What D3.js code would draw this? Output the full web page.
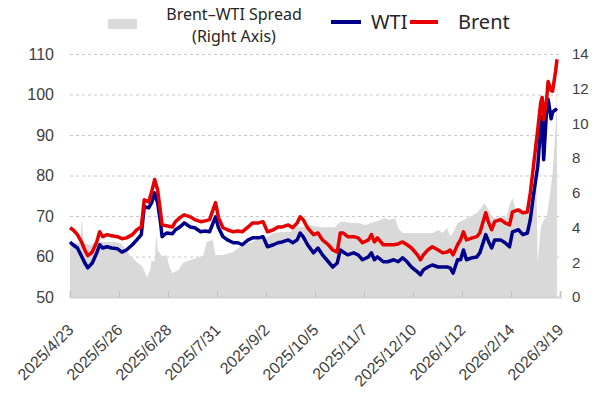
<!DOCTYPE html>
<html lang="en">
<head>
  <meta charset="UTF-8">
  <title>WTI vs Brent</title>
  <script src="https://d3js.org/d3.v7.min.js"></script>
  <style>
    body {
      margin: 0;
      background: #fff;
      font-family: 'Noto Sans', 'Open Sans', sans-serif;
    }
    .axis text { fill: #404040; }
    .grid line { stroke: #c8c8c8; stroke-dasharray: 3,3; }
  </style>
</head>
<body>
  <svg width="600" height="393"></svg>

  <script>
    // trading-day series
    const lineDates = [
      "2025-04-23","2025-04-25","2025-04-28","2025-05-01","2025-05-03","2025-05-05","2025-05-08","2025-05-11",
      "2025-05-13","2025-05-15","2025-05-18","2025-05-21","2025-05-25","2025-05-28","2025-05-31","2025-06-04",
      "2025-06-07","2025-06-10","2025-06-12","2025-06-15","2025-06-17","2025-06-19","2025-06-21","2025-06-23",
      "2025-06-24","2025-06-27","2025-07-01","2025-07-03","2025-07-06","2025-07-09","2025-07-13","2025-07-16",
      "2025-07-20","2025-07-23","2025-07-26","2025-07-30","2025-08-01","2025-08-04","2025-08-07","2025-08-11",
      "2025-08-14","2025-08-17","2025-08-21","2025-08-24","2025-08-28","2025-08-31","2025-09-03","2025-09-07",
      "2025-09-10","2025-09-13","2025-09-17","2025-09-20","2025-09-23","2025-09-25","2025-09-27","2025-09-30",
      "2025-10-04","2025-10-07","2025-10-10","2025-10-14","2025-10-17","2025-10-20","2025-10-22","2025-10-24",
      "2025-10-27","2025-10-31","2025-11-03","2025-11-06","2025-11-10","2025-11-12","2025-11-14","2025-11-16",
      "2025-11-20","2025-11-23","2025-11-27","2025-11-30","2025-12-03","2025-12-06","2025-12-09","2025-12-13",
      "2025-12-15","2025-12-17","2025-12-20","2025-12-23","2025-12-27","2025-12-30","2026-01-02","2026-01-04",
      "2026-01-06","2026-01-09","2026-01-11","2026-01-13","2026-01-15","2026-01-19","2026-01-22","2026-01-24",
      "2026-01-28","2026-01-30","2026-02-01","2026-02-03","2026-02-07","2026-02-10","2026-02-13","2026-02-15",
      "2026-02-19","2026-02-22","2026-02-25","2026-02-27","2026-03-01","2026-03-04","2026-03-06","2026-03-07",
      "2026-03-08","2026-03-10","2026-03-11","2026-03-13","2026-03-14","2026-03-16","2026-03-17"
    ];
    const wti = [
      63.6, 62.9, 62.1, 59.9, 58.4, 57.2, 58.4, 60.9,
      62.9, 62.1, 62.4, 62.1, 61.9, 61.1, 61.6, 62.9,
      64.1, 65.4, 72.3, 72.0, 73.3, 75.7, 73.3, 68.3,
      64.9, 65.8, 65.6, 66.6, 67.3, 68.3, 67.3, 67.1,
      66.1, 66.3, 66.1, 69.8, 67.1, 64.9, 64.1, 63.4,
      63.4, 62.9, 64.1, 64.6, 64.6, 64.9, 62.4, 62.9,
      63.4, 63.6, 64.1, 63.4, 64.1, 65.8, 64.9, 62.9,
      60.9, 62.1, 60.4, 58.7, 57.4, 58.4, 61.6, 61.1,
      60.4, 60.9, 60.4, 59.2, 59.9, 60.9, 59.2, 59.9,
      58.7, 58.7, 59.2, 58.7, 59.7, 58.7, 57.4, 56.2,
      55.5, 56.7, 57.4, 57.9, 57.4, 57.4, 57.4, 57.2,
      55.9, 59.2, 59.2, 61.6, 59.2, 59.7, 59.9, 60.9,
      65.4, 63.6, 62.1, 64.1, 64.1, 63.4, 62.4, 66.1,
      66.6, 65.4, 65.8, 69.1, 74.8, 82.2, 92.1, 94.6,
      83.9, 96.3, 98.8, 94.0, 95.6, 96.3, 96.0
    ];
    const brent = [
      67.1, 66.6, 65.4, 63.4, 61.6, 60.2, 61.1, 63.6,
      66.1, 64.9, 65.4, 65.1, 64.9, 64.4, 64.6, 65.4,
      66.6, 67.3, 74.0, 73.5, 76.0, 79.0, 76.5, 70.8,
      67.8, 67.6, 67.3, 68.6, 69.6, 70.3, 69.8, 69.1,
      68.6, 68.8, 69.1, 73.3, 69.6, 67.1, 66.6, 66.1,
      66.3, 66.1, 67.3, 68.3, 68.3, 68.6, 66.1, 66.6,
      67.3, 67.3, 67.8, 67.1, 68.3, 69.8, 69.1, 67.1,
      65.4, 65.8, 64.1, 62.9, 61.6, 61.1, 65.8, 65.8,
      64.9, 64.9, 64.6, 63.4, 64.1, 65.4, 63.6, 64.6,
      62.9, 62.9, 62.9, 63.1, 63.6, 62.9, 62.1, 60.4,
      59.2, 60.4, 61.6, 62.4, 61.6, 60.9, 61.1, 61.6,
      60.4, 62.9, 64.1, 66.1, 64.1, 64.6, 64.9, 65.8,
      70.8, 68.3, 66.6, 68.6, 69.1, 68.3, 67.8, 71.0,
      71.5, 70.8, 71.0, 75.7, 81.9, 91.3, 98.0, 99.3,
      93.8, 98.8, 103.2, 101.0, 100.8, 105.7, 108.7
    ];

    // Brent-WTI spread, right axis
    const spreadDates = [
      "2025-04-23","2025-04-28","2025-04-30","2025-05-01","2025-05-02","2025-05-06","2025-05-13","2025-05-23",
      "2025-05-27","2025-05-30","2025-06-02","2025-06-07","2025-06-11","2025-06-13","2025-06-14","2025-06-16",
      "2025-06-17","2025-06-19","2025-06-20","2025-06-21","2025-06-24","2025-06-27","2025-06-29","2025-07-01",
      "2025-07-05","2025-07-08","2025-07-13","2025-07-18","2025-07-22","2025-07-24","2025-07-28","2025-07-30",
      "2025-08-04","2025-08-11","2025-08-15","2025-08-22","2025-08-29","2025-09-03","2025-09-07","2025-09-13",
      "2025-09-18","2025-09-23","2025-09-27","2025-10-02","2025-10-05","2025-10-10","2025-10-14","2025-10-18",
      "2025-10-22","2025-10-25","2025-10-30","2025-11-03","2025-11-08","2025-11-12","2025-11-18","2025-11-21",
      "2025-11-24","2025-11-28","2025-11-30","2025-12-03","2025-12-09","2025-12-16","2025-12-23","2025-12-27",
      "2025-12-30","2026-01-02","2026-01-04","2026-01-06","2026-01-09","2026-01-13","2026-01-17","2026-01-22",
      "2026-01-25","2026-01-27","2026-01-30","2026-02-02","2026-02-07","2026-02-11","2026-02-13","2026-02-15",
      "2026-02-17","2026-02-20","2026-02-23","2026-02-25","2026-02-28","2026-03-02","2026-03-03","2026-03-04",
      "2026-03-06","2026-03-08","2026-03-10","2026-03-12","2026-03-14","2026-03-16","2026-03-17"
    ];
    const spread = [
      3.11, 3.11, 3.11, 4.61, 3.11, 3.00, 3.17, 3.17,
      3.11, 2.82, 2.42, 2.02, 1.73, 1.27, 1.15, 1.56,
      2.13, 2.02, 3.69, 2.71, 2.35, 2.42, 1.73, 1.38,
      1.56, 1.96, 2.13, 2.25, 2.42, 3.17, 3.28, 2.42,
      2.42, 2.59, 2.88, 3.11, 3.40, 3.46, 3.69, 3.74,
      3.74, 4.03, 4.03, 4.15, 4.08, 4.00, 4.03, 4.00,
      4.32, 4.32, 4.26, 4.26, 4.15, 4.26, 4.44, 4.55,
      4.44, 4.55, 3.97, 3.69, 3.69, 3.69, 3.69, 3.86,
      3.69, 3.97, 3.50, 3.69, 4.26, 4.44, 4.61, 4.84,
      5.13, 5.41, 5.01, 4.55, 4.61, 4.61, 5.30, 5.70,
      5.13, 5.13, 4.84, 4.84, 5.59, 6.74, 7.14, 1.96,
      4.03, 4.44, 4.61, 5.75, 7.14, 9.62, 12.10
    ];

    const tickDates = [
      "2025-04-23","2025-05-26","2025-06-28","2025-07-31","2025-09-02","2025-10-05",
      "2025-11-07","2025-12-10","2026-01-12","2026-02-14","2026-03-19"
    ];
    const leftTicks = [50, 60, 70, 80, 90, 100, 110];
    const rightTicks = [0, 2, 4, 6, 8, 10, 12, 14];

    const parse = d3.utcParse("%Y-%m-%d");
    const fmt = d3.utcFormat("%Y/%-m/%-d");

    const plotLeft = 70, plotRight = 560, plotTop = 54, plotBottom = 297;

    const svg = d3.select("svg");

    const x = d3.scaleUtc()
      .domain([parse(tickDates[0]), parse(tickDates[tickDates.length - 1])])
      .range([plotLeft, plotRight]);
    const yL = d3.scaleLinear().domain([50, 110]).range([plotBottom, plotTop]);
    const yR = d3.scaleLinear().domain([0, 14]).range([plotBottom, plotTop]);

    // gridlines
    const grid = svg.append("g")
      .attr("class", "grid")
      .attr("transform", "translate(" + plotLeft + ",0)")
      .call(d3.axisLeft(yL).tickValues(leftTicks.slice(1)).tickSize(-(plotRight - plotLeft)).tickFormat(""));
    grid.select(".domain").remove();

    // spread area
    const spreadData = spreadDates.map((d, i) => ({date: parse(d), v: spread[i]}));
    svg.append("path")
      .datum(spreadData)
      .attr("fill", "#d9d9d9")
      .attr("d", d3.area().x(d => x(d.date)).y0(yR(0)).y1(d => yR(d.v)));

    // x axis
    const xAxis = svg.append("g")
      .attr("class", "axis")
      .attr("transform", "translate(0," + plotBottom + ")")
      .call(d3.axisBottom(x).tickValues(tickDates.map(parse)).tickFormat(fmt).tickSize(-6));
    xAxis.select(".domain").attr("stroke", "#d0d0d0").attr("stroke-width", 2);
    xAxis.selectAll(".tick line").attr("stroke", "#c0c0c0");
    xAxis.selectAll(".tick text")
      .attr("x", 0).attr("y", 0).attr("dy", 0)
      .attr("text-anchor", "end")
      .attr("transform", "translate(4,34) rotate(-45)")
      .style("font-size", "16px");

    const yAxisL = svg.append("g")
      .attr("class", "axis")
      .attr("transform", "translate(54,0)")
      .call(d3.axisLeft(yL).tickValues(leftTicks).tickSize(0).tickPadding(0));
    yAxisL.select(".domain").remove();
    yAxisL.selectAll("text").style("font-size", "16px");

    const yAxisR = svg.append("g")
      .attr("class", "axis")
      .attr("transform", "translate(572,0)")
      .call(d3.axisRight(yR).tickValues(rightTicks).tickSize(0).tickPadding(0));
    yAxisR.select(".domain").remove();
    yAxisR.selectAll("text").style("font-size", "15px");

    // price lines
    const lineData = lineDates.map((d, i) => ({date: parse(d), wti: wti[i], brent: brent[i]}));
    svg.append("path")
      .datum(lineData)
      .attr("fill", "none")
      .attr("stroke", "#00008b")
      .attr("stroke-width", 3.5)
      .attr("stroke-linejoin", "round")
      .attr("d", d3.line().x(d => x(d.date)).y(d => yL(d.wti)));
    svg.append("path")
      .datum(lineData)
      .attr("fill", "none")
      .attr("stroke", "#e60000")
      .attr("stroke-width", 3.5)
      .attr("stroke-linejoin", "round")
      .attr("d", d3.line().x(d => x(d.date)).y(d => yL(d.brent)));

    // legend
    const legend = svg.append("g").style("fill", "#262626");
    legend.append("rect").attr("x", 108).attr("y", 19).attr("width", 29).attr("height", 10).attr("fill", "#d9d9d9");
    legend.append("text").attr("x", 234).attr("y", 20).attr("text-anchor", "middle")
      .style("font-size", "16px").text("Brent–WTI Spread");
    legend.append("text").attr("x", 234).attr("y", 42).attr("text-anchor", "middle")
      .style("font-size", "16px").text("(Right Axis)");
    legend.append("line").attr("x1", 331).attr("x2", 361).attr("y1", 22).attr("y2", 22)
      .attr("stroke", "#00008b").attr("stroke-width", 4);
    legend.append("text").attr("x", 371).attr("y", 29).style("font-size", "20px").text("WTI");
    legend.append("line").attr("x1", 410).attr("x2", 438).attr("y1", 22).attr("y2", 22)
      .attr("stroke", "#e60000").attr("stroke-width", 4);
    legend.append("text").attr("x", 458).attr("y", 29).style("font-size", "20px").text("Brent");
  </script>
</body>
</html>
